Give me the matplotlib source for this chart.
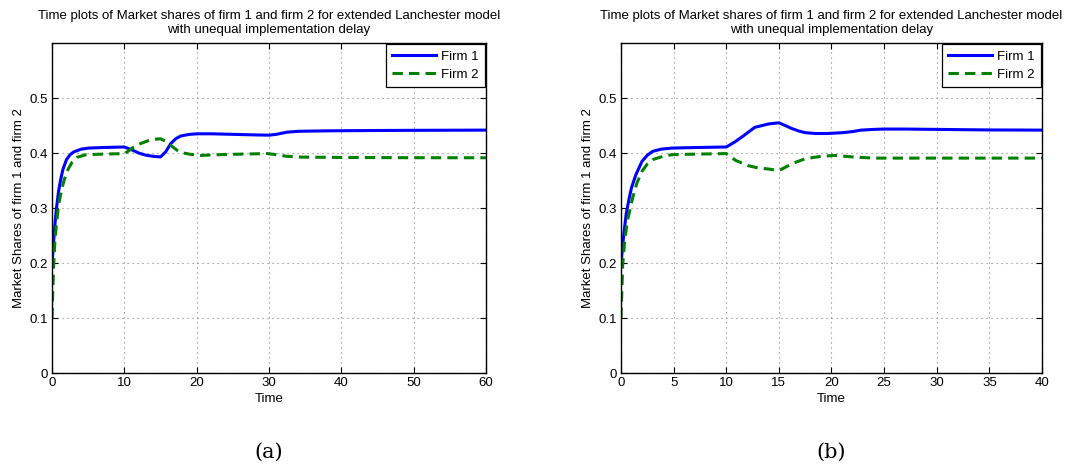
import matplotlib.pyplot as plt

# ---- data ----
# (a) left panel, time 0..60
t1_a = [0, 0.2, 0.4, 0.6, 0.9, 1.2, 1.5, 2.0, 2.5, 3.0, 4.0, 5.0, 7, 10,
        11, 12, 13, 14, 15, 15.7, 16.4, 17.1, 17.8, 19, 20.1, 22, 25, 28, 30,
        31, 32.5, 34, 36, 39, 45, 50, 55, 60]
firm1_a = [0.197, 0.235, 0.27, 0.298, 0.33, 0.352, 0.37, 0.388, 0.397, 0.402,
           0.407, 0.409, 0.410, 0.411,
           0.406, 0.400, 0.396, 0.394, 0.393, 0.402, 0.417, 0.426, 0.431, 0.434,
           0.435, 0.435, 0.434, 0.433, 0.4325,
           0.434, 0.438, 0.4395, 0.440, 0.4405, 0.441, 0.4413, 0.4415, 0.4417]

t2_a = [0, 0.1, 0.23, 0.4, 0.6, 0.9, 1.3, 1.7, 2.2, 2.8, 3.4, 4.7, 7, 10,
        10.5, 11.3, 12.2, 13.2, 14.2, 15, 15.9, 16.6, 17.3, 18.2, 19.2, 20.5,
        23, 26, 29.8, 31, 32.5, 34.4, 40, 50, 60]
firm2_a = [0.1, 0.15, 0.197, 0.24, 0.27, 0.305, 0.332, 0.352, 0.37, 0.384,
           0.392, 0.397, 0.398, 0.399,
           0.403, 0.411, 0.417, 0.422, 0.425, 0.426, 0.420, 0.412, 0.405, 0.400,
           0.3975, 0.3957,
           0.397, 0.398, 0.399, 0.397, 0.394, 0.3926, 0.392, 0.3915, 0.3914]

# (b) right panel, time 0..40
t1_b = [0, 0.15, 0.3, 0.5, 0.78, 1.0, 1.4, 2.0, 2.5, 3.0, 3.8, 4.8, 7, 10,
        10.8, 11.5, 12.1, 12.7, 13.4, 14, 15, 15.6, 16.2, 16.9, 17.5, 18.5,
        19.7, 21, 22, 22.8, 24, 25, 27, 30, 35, 40]
firm1_b = [0.197, 0.23, 0.258, 0.29, 0.318, 0.337, 0.36, 0.385, 0.396, 0.403,
           0.407, 0.409, 0.410, 0.411,
           0.420, 0.4294, 0.438, 0.4466, 0.450, 0.4528, 0.455, 0.450, 0.4448,
           0.440, 0.437, 0.4355,
           0.4356, 0.437, 0.439, 0.4417, 0.443, 0.4436, 0.4436, 0.443, 0.442, 0.4417]

t2_b = [0, 0.16, 0.35, 0.6, 1.1, 1.5, 2.0, 2.5, 3.0, 4.0, 4.8, 7, 10,
        10.9, 12.1, 13, 14, 15, 15.9, 16.7, 17.5, 19, 20.3, 22.2, 24.1, 30, 35, 40]
firm2_b = [0.1, 0.197, 0.24, 0.276, 0.318, 0.345, 0.367, 0.38, 0.388, 0.394,
           0.397, 0.398, 0.399,
           0.3865, 0.377, 0.373, 0.371, 0.368, 0.377, 0.384, 0.3896, 0.394,
           0.3957, 0.3926, 0.3908, 0.3908, 0.3908, 0.3908]

title = ('Time plots of Market shares of firm 1 and firm 2 for extended Lanchester model\n'
         'with unequal implementation delay')
ylab = 'Market Shares of firm 1 and firm 2'
yticks = [0, 0.1, 0.2, 0.3, 0.4, 0.5]
xticks_a = [0, 10, 20, 30, 40, 50, 60]
xticks_b = [0, 5, 10, 15, 20, 25, 30, 35, 40]

plt.rcParams['font.family'] = ['Liberation Sans', 'DejaVu Sans']

fig = plt.figure(figsize=(10.77, 4.71), dpi=100)
ax_a = fig.add_axes([0.0483, 0.208, 0.403, 0.7006])
ax_b = fig.add_axes([0.5766, 0.208, 0.3909, 0.7006])


def draw_panel(ax, t1, y1, t2, y2, xticks, xmax, caption):
    ax.plot(t1, y1, color=(0, 0, 1), lw=2.2, label='Firm 1')
    ax.plot(t2, y2, color=(0, 0.5, 0), lw=2.2, ls=(0, (3.4, 2.0)), label='Firm 2')
    ax.set_xlim(0, xmax)
    ax.set_ylim(0, 0.6)
    ax.set_xticks(xticks)
    ax.set_yticks(yticks)
    ax.set_yticklabels(['0', '0.1', '0.2', '0.3', '0.4', '0.5'])
    ax.tick_params(direction='in', top=True, right=True, length=4,
                   labelsize=9.5, pad=3)
    ax.grid(True, ls=(0, (1, 3.5)), color='0.5', lw=0.8)
    for sp in ax.spines.values():
        sp.set_linewidth(1.0)
    ax.set_title(title, fontsize=9.5, pad=7, linespacing=1.3)
    ax.set_xlabel('Time', fontsize=9.5, labelpad=3)
    ax.set_ylabel(ylab, fontsize=9.5, labelpad=3)
    leg = ax.legend(loc='upper right', fontsize=9.5, fancybox=False,
                    framealpha=1, edgecolor='black', handlelength=3.3,
                    borderaxespad=0.1, borderpad=0.45, labelspacing=0.45,
                    handletextpad=0.4)
    leg.get_frame().set_linewidth(0.9)
    ax.text(0.5, -0.24, caption, transform=ax.transAxes, ha='center',
            va='center', fontsize=15, family='DejaVu Serif')


draw_panel(ax_a, t1_a, firm1_a, t2_a, firm2_a, xticks_a, 60, '(a)')
draw_panel(ax_b, t1_b, firm1_b, t2_b, firm2_b, xticks_b, 40, '(b)')

fig.savefig('out.png', dpi=100)
